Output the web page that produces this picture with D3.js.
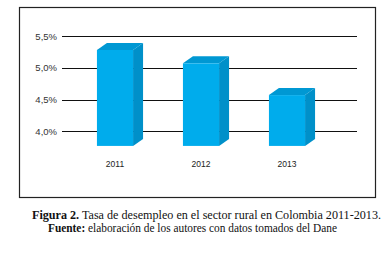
<!DOCTYPE html>
<html>
<head>
<meta charset="utf-8">
<script src="https://cdn.jsdelivr.net/npm/d3@7"></script>
<style>
  body { margin: 0; background: #fff; }
  svg { display: block; }
</style>
</head>
<body>
<div id="chart"></div>
<script>
(function() {
    const width = 391;
    const height = 254;

    // Datos
    const years = ["2011", "2012", "2013"];
    const rates = [5.28, 5.07, 4.57];
    const tickValues = [4.0, 4.5, 5.0, 5.5];
    const tickLabels = ["4,0%", "4,5%", "5,0%", "5,5%"];
    const baseValue = 3.77;

    const depth = { dx: 10, dy: 7 };
    const colors = { front: "#00acec", side: "#0090c9", top: "#0098d3" };

    const svg = d3.select("#chart").append("svg")
        .attr("width", width).attr("height", height);

    // marco
    svg.append("rect")
        .attr("x", 19.5).attr("y", 7.5).attr("width", 356).attr("height", 190)
        .attr("fill", "none").attr("stroke", "#222").attr("stroke-width", 1.2);

    const x = d3.scaleBand().domain(years).range([72, 330]).paddingInner(0.58).paddingOuter(0.29);
    const y = d3.scaleLinear().domain([4.0, 5.5]).range([131.3, 36]);

    // líneas de la cuadrícula
    svg.append("g").selectAll("line")
        .data(tickValues)
        .join("line")
        .attr("x1", 62).attr("x2", 357)
        .attr("y1", d => Math.round(y(d)) + 0.5).attr("y2", d => Math.round(y(d)) + 0.5)
        .attr("stroke", "#111").attr("stroke-width", 1);

    svg.append("g").selectAll("text")
        .data(tickValues)
        .join("text")
        .attr("x", 57).attr("y", d => y(d) + 3.5)
        .attr("text-anchor", "end")
        .attr("font-family", "Liberation Sans, Arial, sans-serif")
        .attr("font-size", "9.5px").attr("fill", "#333")
        .text((d, i) => tickLabels[i]);

    const data = years.map((yr, i) => ({ year: yr, val: rates[i] }));
    const bars = svg.append("g").selectAll("g").data(data).join("g");

    const bw = x.bandwidth();
    const y0 = y(baseValue);

    // cara lateral
    bars.append("path")
        .attr("fill", colors.side)
        .attr("d", d => {
            const x1 = x(d.year) + bw, yt = y(d.val);
            return `M${x1},${yt}L${x1 + depth.dx},${yt - depth.dy}L${x1 + depth.dx},${y0 - depth.dy}L${x1},${y0}Z`;
        });

    // cara superior
    bars.append("path")
        .attr("fill", colors.top)
        .attr("d", d => {
            const x0 = x(d.year), yt = y(d.val);
            return `M${x0},${yt}L${x0 + depth.dx},${yt - depth.dy}L${x0 + bw + depth.dx},${yt - depth.dy}L${x0 + bw},${yt}Z`;
        });

    // cara frontal
    bars.append("rect")
        .attr("x", d => x(d.year)).attr("y", d => y(d.val))
        .attr("width", bw).attr("height", d => y0 - y(d.val))
        .attr("fill", colors.front);

    svg.append("g").selectAll("text")
        .data(years)
        .join("text")
        .attr("x", d => x(d) + bw / 2).attr("y", 167)
        .attr("text-anchor", "middle")
        .attr("font-family", "Liberation Sans, Arial, sans-serif")
        .attr("font-size", "8.5px").attr("fill", "#222")
        .text(d => d);

    // pie de figura
    const cap1 = svg.append("text")
        .attr("x", 32).attr("y", 219)
        .attr("textLength", 349).attr("lengthAdjust", "spacingAndGlyphs")
        .attr("font-family", "Liberation Serif, Times New Roman, serif")
        .attr("font-size", "12px").attr("fill", "#111");
    cap1.append("tspan").attr("font-weight", "bold").text("Figura 2.");
    cap1.append("tspan").text(" Tasa de desempleo en el sector rural en Colombia 2011-2013.");

    const cap2 = svg.append("text")
        .attr("x", 48).attr("y", 232)
        .attr("textLength", 289).attr("lengthAdjust", "spacingAndGlyphs")
        .attr("font-family", "Liberation Serif, Times New Roman, serif")
        .attr("font-size", "11.5px").attr("fill", "#111");
    cap2.append("tspan").attr("font-weight", "bold").text("Fuente:");
    cap2.append("tspan").text(" elaboración de los autores con datos tomados del Dane");
})();
</script>
</body>
</html>
